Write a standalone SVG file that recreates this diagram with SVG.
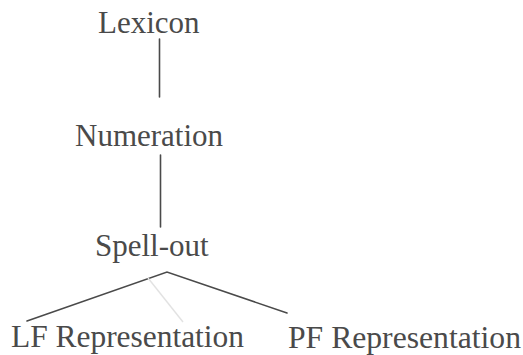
<svg xmlns="http://www.w3.org/2000/svg" width="523" height="355" viewBox="0 0 523 355">
  <style>
    .label { font-family: "Liberation Serif", "Times New Roman", serif; font-size: 31px; fill: #4a4a4a; }
    .edge { stroke: #4a4a4a; stroke-width: 1.6; fill: none; stroke-linecap: round; }
    .faint { stroke: #e2e2e2; stroke-width: 1.4; fill: none; }
  </style>
  <rect width="523" height="355" fill="#ffffff"/>

  <g id="connectors">
    <line class="edge" x1="159.5" y1="39" x2="159.5" y2="97"/>
    <line class="edge" x1="160.5" y1="155" x2="160.5" y2="227"/>
    <polyline class="edge" points="27,321 167,272 287,313"/>
    <line class="faint" x1="148" y1="278" x2="183" y2="322"/>
  </g>

  <g id="lexicon">
    <text class="label" x="98" y="33">Lexicon</text>
  </g>
  <g id="numeration">
    <text class="label" x="75" y="146">Numeration</text>
  </g>
  <g id="spell-out">
    <text class="label" x="95" y="256">Spell-out</text>
  </g>
  <g id="lf-representation">
    <text class="label" x="11" y="347" textLength="233" lengthAdjust="spacingAndGlyphs">LF Representation</text>
  </g>
  <g id="pf-representation">
    <text class="label" x="288" y="348" textLength="233" lengthAdjust="spacingAndGlyphs">PF Representation</text>
  </g>
</svg>
